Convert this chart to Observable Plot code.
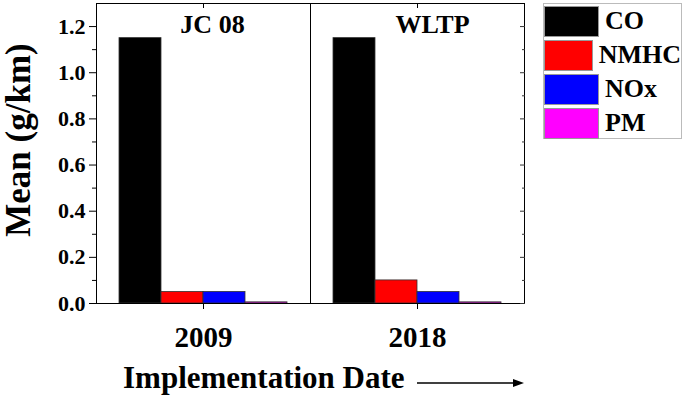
<!DOCTYPE html>
<html>
<head>
<meta charset="utf-8">
<script src="https://cdn.jsdelivr.net/npm/d3@7"></script>
<script src="https://cdn.jsdelivr.net/npm/@observablehq/plot@0.6"></script>
<style>
  html, body { margin: 0; padding: 0; background: #fff; }
  #wrap { position: relative; width: 685px; height: 401px; overflow: hidden; font-family: "Liberation Serif", "Times New Roman", serif; font-weight: bold; color: #000; }
  #wrap svg { display: block; }
  .ylab { position: absolute; left: 18px; top: 140px; transform: translate(-50%, -50%) rotate(-90deg); font-size: 35px; white-space: nowrap; line-height: 1; }
  .xtitle { position: absolute; left: 123px; top: 362px; font-size: 31px; white-space: nowrap; line-height: 1; }
  .arrow { position: absolute; left: 415px; top: 376px; }
  .legend { position: absolute; left: 543px; top: 3px; width: 139px; height: 136px; border: 1px solid #bbb; box-sizing: border-box; background: #fff; }
  .legend .row { display: flex; align-items: center; height: 34px; }
  .legend .sw { width: 55px; height: 31px; box-sizing: border-box; border: 1px solid #999; }
  .legend .lb { margin-left: 6px; font-size: 26px; line-height: 1; }
</style>
</head>
<body>
<div id="wrap"></div>
<script>
const years = ["2009", "2018"];
const standards = ["JC 08", "WLTP"];
const pollutants = ["CO", "NMHC", "NOx", "PM"];
const colors = ["#000000", "#ff0000", "#0000ff", "#ff00ff"];
const values2009 = [1.15, 0.05, 0.05, 0.005];
const values2018 = [1.15, 0.10, 0.05, 0.005];
const yTicks = [0, 0.2, 0.4, 0.6, 0.8, 1.0, 1.2];
const yMinorTicks = [0.1, 0.3, 0.5, 0.7, 0.9, 1.1];
const yLabel = "Mean (g/km)";
const xTitle = "Implementation Date";

const data = [];
pollutants.forEach((p, i) => data.push({year: years[0], pollutant: p, value: values2009[i]}));
pollutants.forEach((p, i) => data.push({year: years[1], pollutant: p, value: values2018[i]}));
const facetLabels = years.map((y, i) => ({year: y, label: standards[i]}));

const chart = Plot.plot({
  width: 685,
  height: 401,
  marginLeft: 96,
  marginRight: 161,
  marginTop: 3,
  marginBottom: 98,
  style: {fontFamily: "'Liberation Serif', 'Times New Roman', serif", fontWeight: "bold", color: "#000", background: "#fff"},
  fx: {domain: years, padding: 0, axis: null, label: null},
  x: {domain: pollutants, paddingInner: 0, paddingOuter: 0.5, axis: null, label: null},
  y: {domain: [0, 1.3], axis: null, label: null},
  color: {domain: pollutants, range: colors},
  marks: [
    Plot.barY(data, {fx: "year", x: "pollutant", y: "value", fill: "pollutant", stroke: "#333", strokeWidth: 0.8}),
    Plot.frame({stroke: "#000", strokeWidth: 1}),
    Plot.axisY(yTicks, {anchor: "left", tickSize: 7, tickPadding: 4, tickFormat: d3.format(".1f"), fontSize: 22, label: null}),
    Plot.axisY(yMinorTicks, {anchor: "left", tickSize: 4, text: null, label: null}),
    Plot.axisY(yTicks, {anchor: "right", tickSize: 5, dx: -5, text: null, label: null, stroke: "#333"}),
    Plot.axisY(yMinorTicks, {anchor: "right", tickSize: 3, dx: -3, text: null, label: null, stroke: "#333"}),
    Plot.axisFx({anchor: "bottom", tickSize: 6, tickPadding: 17, fontSize: 29, label: null}),
    Plot.axisFx({anchor: "top", tickSize: 4, dy: 4, text: null, label: null}),
    Plot.text(facetLabels.filter(d => d.year === years[0]), {fx: "year", text: "label", frameAnchor: "top", lineAnchor: "top", dy: 11, dx: 9, fontSize: 26}),
    Plot.text(facetLabels.filter(d => d.year === years[1]), {fx: "year", text: "label", frameAnchor: "top", lineAnchor: "top", dy: 11, dx: 15, fontSize: 26})
  ]
});

const wrap = document.getElementById("wrap");
wrap.appendChild(chart);

const yl = document.createElement("div");
yl.className = "ylab";
yl.textContent = yLabel;
wrap.appendChild(yl);

const xt = document.createElement("div");
xt.className = "xtitle";
xt.textContent = xTitle;
wrap.appendChild(xt);

const arrow = document.createElementNS("http://www.w3.org/2000/svg", "svg");
arrow.setAttribute("class", "arrow");
arrow.setAttribute("width", "112");
arrow.setAttribute("height", "14");
arrow.innerHTML = '<line x1="2" y1="7" x2="100" y2="7" stroke="#000" stroke-width="1.6"/><path d="M98,3 L109,7 L98,11 Z" fill="#000"/>';
wrap.appendChild(arrow);

const lg = document.createElement("div");
lg.className = "legend";
pollutants.forEach((p, i) => {
  const row = document.createElement("div");
  row.className = "row";
  const sw = document.createElement("div");
  sw.className = "sw";
  sw.style.background = colors[i];
  const lb = document.createElement("div");
  lb.className = "lb";
  lb.textContent = p;
  row.appendChild(sw);
  row.appendChild(lb);
  lg.appendChild(row);
});
wrap.appendChild(lg);
</script>
</body>
</html>
